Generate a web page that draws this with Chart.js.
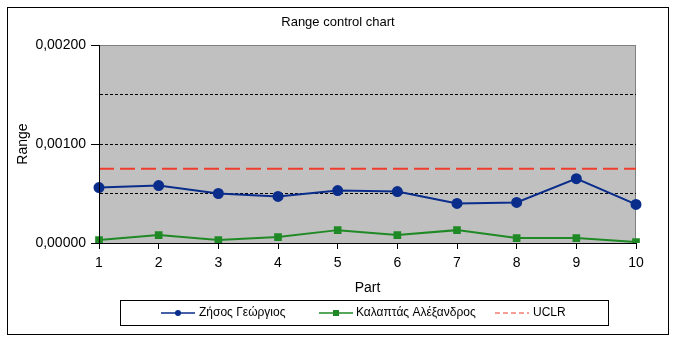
<!DOCTYPE html>
<html>
<head>
<meta charset="utf-8">
<script src="https://cdn.jsdelivr.net/npm/chart.js@4"></script>
<style>
  body { margin: 0; background: #ffffff; }
  #wrap { width: 678px; height: 337px; }
</style>
</head>
<body>
<div id="wrap"><canvas id="rangeChart" width="678" height="337"></canvas></div>
<script>
// chart data
var parts = ["1", "2", "3", "4", "5", "6", "7", "8", "9", "10"];
var zisosValues = [0.00056, 0.00058, 0.00050, 0.00047, 0.00053, 0.00052, 0.00040, 0.00041, 0.00065, 0.00039];
var kalaptasValues = [0.00003, 0.00008, 0.00003, 0.00006, 0.00013, 0.00008, 0.00013, 0.00005, 0.00005, 0.00001];
var uclrValues = [0.00075, 0.00075, 0.00075, 0.00075, 0.00075, 0.00075, 0.00075, 0.00075, 0.00075, 0.00075];
var seriesNames = ["Ζήσος Γεώργιος", "Καλαπτάς Αλέξανδρος", "UCLR"];
var chartTitle = "Range control chart";
var yTicks = [0, 0.0005, 0.001, 0.0015, 0.002];

var FONT = "'Liberation Sans', Arial, sans-serif";

function fmt(v) {
    return v.toFixed(5).replace(".", ",");
}
function isMajor(v) {
    return Math.abs(v / 0.001 - Math.round(v / 0.001)) < 1e-6;
}

// grey plot area, outer frame, title and the boxed legend
var excelLook = {
    id: "excelLook",
    beforeDraw: function(chart) {
        var ctx = chart.ctx;
        var a = chart.chartArea;
        ctx.save();
        ctx.fillStyle = "#ffffff";
        ctx.fillRect(0, 0, chart.width, chart.height);
        ctx.fillStyle = "#c0c0c0";
        ctx.fillRect(a.left, a.top, a.right - a.left, a.bottom - a.top);
        ctx.strokeStyle = "#808080";
        ctx.lineWidth = 1;
        ctx.strokeRect(a.left + 0.5, a.top + 0.5, a.right - a.left - 1, a.bottom - a.top);
        ctx.strokeStyle = "#000000";
        ctx.strokeRect(7.5, 7.5, 661, 327);
        ctx.fillStyle = "#000000";
        ctx.font = "13px " + FONT;
        ctx.textAlign = "center";
        ctx.textBaseline = "middle";
        ctx.fillText(chartTitle, 338, 22);
        ctx.restore();
    },
    afterDraw: function(chart) {
        var ctx = chart.ctx;
        var a = chart.chartArea;
        ctx.save();
        // solid axis lines
        ctx.strokeStyle = "#000000";
        ctx.lineWidth = 1;
        ctx.beginPath();
        ctx.moveTo(a.left + 0.5, a.top);
        ctx.lineTo(a.left + 0.5, a.bottom + 0.5);
        ctx.lineTo(a.right, a.bottom + 0.5);
        ctx.stroke();

        ctx.strokeRect(120.5, 300.5, 488, 25);
        var items = [
            {x: 161, textX: 199},
            {x: 319, textX: 356},
            {x: 495, textX: 533}
        ];
        var y = 313;
        chart.data.datasets.forEach(function(ds, i) {
            var it = items[i];
            ctx.strokeStyle = ds.borderColor;
            ctx.lineWidth = i === 2 ? 1 : 1.5;
            ctx.setLineDash(i === 2 ? [5, 3] : []);
            ctx.beginPath();
            ctx.moveTo(it.x, y);
            ctx.lineTo(it.x + 34, y);
            ctx.stroke();
            ctx.setLineDash([]);
            ctx.fillStyle = ds.borderColor;
            if (i === 0) {
                ctx.beginPath();
                ctx.arc(it.x + 17, y, 3, 0, Math.PI * 2);
                ctx.fill();
            } else if (i === 1) {
                ctx.fillRect(it.x + 14, y - 3, 6, 6);
            }
            ctx.fillStyle = "#000000";
            ctx.font = "12px " + FONT;
            ctx.textBaseline = "middle";
            ctx.textAlign = "left";
            ctx.fillText(ds.label, it.textX, y);
        });
        ctx.restore();
    }
};

var ctx = document.getElementById("rangeChart");
var rangeChart = new Chart(ctx, {
    type: "line",
    data: {
        labels: parts,
        datasets: [
            {
                label: seriesNames[0],
                data: zisosValues,
                borderColor: "#0a2d8c",
                backgroundColor: "#0a2d8c",
                borderWidth: 2,
                pointStyle: "circle",
                pointRadius: 4.5,
                pointHoverRadius: 4.5,
                tension: 0
            }, {
                label: seriesNames[1],
                data: kalaptasValues,
                borderColor: "#1f8a25",
                backgroundColor: "#1f8a25",
                borderWidth: 2,
                pointStyle: "rect",
                pointRadius: 4,
                pointHoverRadius: 4,
                tension: 0
            }, {
                label: seriesNames[2],
                data: uclrValues,
                borderColor: "#f03c2c",
                backgroundColor: "#f03c2c",
                borderWidth: 2,
                borderDash: [15, 6],
                pointRadius: 0,
                tension: 0
            }
        ]
    },
    plugins: [excelLook],
    options: {
        responsive: false,
        animation: false,
        events: [],
        layout: { padding: { left: 8, right: 42, top: 45, bottom: 40 } },
        plugins: {
            legend: { display: false },
            tooltip: { enabled: false },
            title: { display: false }
        },
        scales: {
            x: {
                type: "category",
                offset: false,
                afterFit: function(scale) { scale.height = 54; },
                border: { display: true, color: "#000000", width: 1 },
                grid: {
                    drawOnChartArea: false,
                    drawTicks: true,
                    tickLength: 6,
                    tickColor: "#000000"
                },
                ticks: {
                    color: "#000000",
                    font: { family: FONT, size: 14 },
                    padding: 6,
                    maxRotation: 0,
                    autoSkip: false
                },
                title: {
                    display: true,
                    text: "Part",
                    color: "#000000",
                    font: { family: FONT, size: 14 },
                    padding: { top: 0, bottom: 0 }
                }
            },
            y: {
                min: yTicks[0],
                max: yTicks[yTicks.length - 1],
                afterFit: function(scale) { scale.width = 91; },
                afterBuildTicks: function(scale) {
                    scale.ticks = yTicks.map(function(v) { return { value: v }; });
                },
                border: { display: true, color: "#000000", width: 1, dash: [3, 2] },
                grid: {
                    color: function(c) {
                        var v = c.tick ? c.tick.value : 0;
                        if (v <= 0 || v >= 0.002) return "rgba(0,0,0,0)";
                        return "#000000";
                    },
                    tickColor: function(c) {
                        return c.tick && isMajor(c.tick.value) ? "#000000" : "rgba(0,0,0,0)";
                    },
                    lineWidth: 1,
                    tickBorderDash: [],
                    tickLength: 8
                },
                ticks: {
                    color: "#000000",
                    font: { family: FONT, size: 14 },
                    padding: 5,
                    callback: function(v) { return isMajor(v) ? fmt(v) : ""; }
                },
                title: {
                    display: true,
                    text: "Range",
                    color: "#000000",
                    font: { family: FONT, size: 14 },
                    padding: { top: 7, bottom: 0 }
                }
            }
        }
    }
});
</script>
</body>
</html>
